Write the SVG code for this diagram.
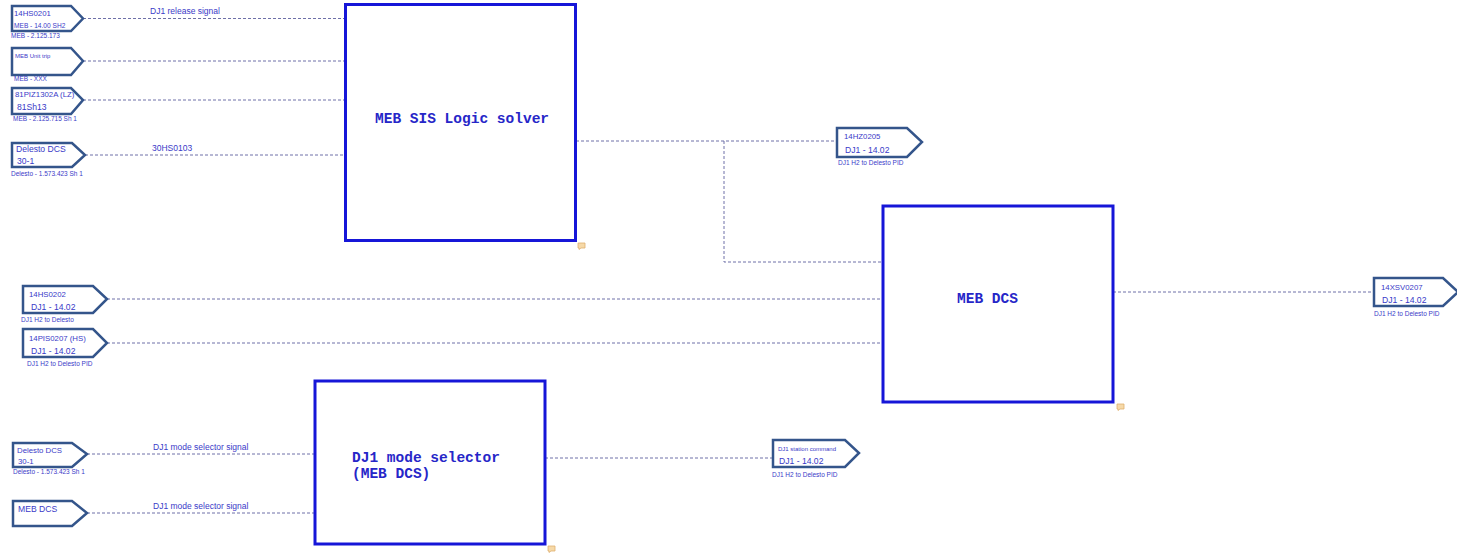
<svg xmlns="http://www.w3.org/2000/svg" width="1457" height="553" viewBox="0 0 1457 553">
<style>
.blk{fill:#fff;stroke:#1616d8;stroke-width:3}
.bt{font-family:"Liberation Mono",monospace;font-weight:bold;font-size:14.5px;fill:#2626c8}
.opc{fill:#fff;stroke:#34558b;stroke-width:2.5;stroke-linejoin:miter}
.t1{font-family:"Liberation Sans",Arial,sans-serif;font-size:7.8px;fill:#3a3ac8}
.t2{font-family:"Liberation Sans",Arial,sans-serif;font-size:8.6px;fill:#3a3ac8}
.t3{font-family:"Liberation Sans",Arial,sans-serif;font-size:6.6px;fill:#3a3ac8}
.ts{font-family:"Liberation Sans",Arial,sans-serif;font-size:6.5px;fill:#3a3ac8}
.tt{font-family:"Liberation Sans",Arial,sans-serif;font-size:6px;fill:#3a3ac8}
.lbl{font-family:"Liberation Sans",Arial,sans-serif;font-size:8.5px;fill:#3a3ac8}
.wire{fill:none;stroke:#6e70a8;stroke-width:1;stroke-dasharray:3 2}
.note{fill:#f6d9a8;stroke:#e0b070;stroke-width:0.8}
</style>
<g id="connectors">
<path class="wire" d="M83 18.5H345"/>
<path class="wire" d="M83 61H345"/>
<path class="wire" d="M83 100H345"/>
<path class="wire" d="M85 155H345"/>
<path class="wire" d="M576 141H837"/>
<path class="wire" d="M724 141V262H883"/>
<path class="wire" d="M107 299H882"/>
<path class="wire" d="M107 343H882"/>
<path class="wire" d="M1113 292H1374"/>
<path class="wire" d="M87 454H315"/>
<path class="wire" d="M87 513H315"/>
<path class="wire" d="M545 458H773"/>
<text class="lbl" x="150" y="14">DJ1 release signal</text>
<text class="lbl" x="152" y="151">30HS0103</text>
<text class="lbl" x="153" y="450">DJ1 mode selector signal</text>
<text class="lbl" x="153" y="509">DJ1 mode selector signal</text>
</g>
<g id="sis">
<rect class="blk" x="345.5" y="4.5" width="230" height="236"/>
<text class="bt" x="375" y="123">MEB SIS Logic solver</text>
<path class="note" d="M578 243h7v5h-4l-2 1.5v-1.5h-1z"/>
</g>
<g id="mebdcs">
<rect class="blk" x="883" y="206" width="230" height="196"/>
<text class="bt" x="957" y="303">MEB DCS</text>
<path class="note" d="M1117 404h7v5h-4l-2 1.5v-1.5h-1z"/>
</g>
<g id="modesel">
<rect class="blk" x="315" y="381" width="230" height="163"/>
<text class="bt" x="352" y="462">DJ1 mode selector</text>
<text class="bt" x="352" y="478">(MEB DCS)</text>
<path class="note" d="M548 546h7v5h-4l-2 1.5v-1.5h-1z"/>
</g>
<g id="in-14HS0201">
<path class="opc" d="M12 6H71L83 18.5L71 31H12Z"/>
<text class="t1" x="14" y="16">14HS0201</text>
<text class="t3" x="14" y="28">MEB - 14.00 SH2</text>
<text class="ts" x="11" y="38">MEB - 2.125.173</text>
</g>
<g id="in-unittrip">
<path class="opc" d="M12 48H71L83 61L71 75H12Z"/>
<text class="tt" x="15" y="58">MEB Unit trip</text>
<text class="ts" x="14" y="81">MEB - XXX</text>
</g>
<g id="in-81PIZ1302A">
<path class="opc" d="M12 88H71L83 100L71 114H12Z"/>
<text class="t1" x="15" y="97">81PIZ1302A (LZ)</text>
<text class="t2" x="17" y="110">81Sh13</text>
<text class="ts" x="13" y="121">MEB - 2.125.715 Sh 1</text>
</g>
<g id="in-delesto1">
<path class="opc" d="M12 143H72L85 155L72 167H12Z"/>
<text class="t2" x="16" y="152">Delesto DCS</text>
<text class="t2" x="17" y="164">30-1</text>
<text class="ts" x="11" y="176">Delesto - 1.573.423 Sh 1</text>
</g>
<g id="in-14HS0202">
<path class="opc" d="M23 286H93L107 299L93 313H23Z"/>
<text class="t1" x="29" y="297">14HS0202</text>
<text class="t2" x="31" y="310">DJ1 - 14.02</text>
<text class="ts" x="21" y="322">DJ1 H2 to Delesto</text>
</g>
<g id="in-14PIS0207">
<path class="opc" d="M23 329H93L107 343L93 357H23Z"/>
<text class="t1" x="29" y="341">14PIS0207 (HS)</text>
<text class="t2" x="31" y="354">DJ1 - 14.02</text>
<text class="ts" x="27" y="366">DJ1 H2 to Delesto PID</text>
</g>
<g id="out-14HZ0205">
<path class="opc" d="M837 128H907L922 142L907 157H837Z"/>
<text class="t1" x="844" y="139">14HZ0205</text>
<text class="t2" x="845" y="153">DJ1 - 14.02</text>
<text class="ts" x="838" y="165">DJ1 H2 to Delesto PID</text>
</g>
<g id="out-14XSV0207">
<path class="opc" d="M1374 278H1443L1458 292L1443 306H1374Z"/>
<text class="t1" x="1381" y="290">14XSV0207</text>
<text class="t2" x="1382" y="303">DJ1 - 14.02</text>
<text class="ts" x="1374" y="316">DJ1 H2 to Delesto PID</text>
</g>
<g id="in-delesto2">
<path class="opc" d="M13 443H72L87 454L72 467H13Z"/>
<text class="t1" x="17" y="453">Delesto DCS</text>
<text class="t1" x="18" y="464">30-1</text>
<text class="ts" x="13" y="474">Delesto - 1.573.423 Sh 1</text>
</g>
<g id="in-mebdcs">
<path class="opc" d="M13 501H72L87 513L72 526H13Z"/>
<text class="t2" x="18" y="512">MEB DCS</text>
</g>
<g id="out-stationcmd">
<path class="opc" d="M773 440H845L859 453L845 467H773Z"/>
<text class="tt" x="778" y="451">DJ1 station command</text>
<text class="t2" x="779" y="464">DJ1 - 14.02</text>
<text class="ts" x="772" y="477">DJ1 H2 to Delesto PID</text>
</g>
</svg>
